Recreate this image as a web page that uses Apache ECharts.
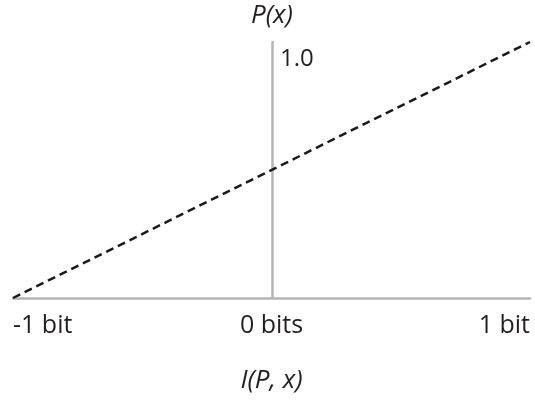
<!DOCTYPE html>
<html lang="en">
<head>
	<meta charset="UTF-8">
	<title>information vs probability</title>
	<style>
		html, body { margin: 0; padding: 0; background: #fff; }
		#chart { width: 535px; height: 400px; }
	</style>
</head>
<body>
	<div id="chart"></div>
	<script src="https://cdn.jsdelivr.net/npm/echarts@6/dist/echarts.min.js"></script>
	<script>
		// data
		var infoBits = [-1, 1];
		var probValues = [0, 1];
		var xTickLabels = {'-1': '-1 bit', '0': '0 bits', '1': '1 bit'};
		var yTickLabels = {'1': '1.0'};

		var lineData = [];
		for (var i = 0; i < infoBits.length; i++) {
			lineData.push([infoBits[i], probValues[i]]);
		}

		var axisGrey = '#b5b5b8';
		var textCol = '#231f20';
		var font = '"Open Sans", sans-serif';

		var chart = echarts.init(document.getElementById('chart'));
		chart.setOption({
			animation: false,
			backgroundColor: '#fff',
			grid: { left: 13, right: 5, top: 42, bottom: 102 },
			xAxis: {
				type: 'value',
				min: -1, max: 1, interval: 1,
				name: 'I(P, x)',
				nameLocation: 'middle',
				nameGap: 70,
				nameTextStyle: { fontFamily: font, fontSize: 26, fontStyle: 'italic', color: textCol },
				axisLine: { show: true, onZero: false, lineStyle: { color: axisGrey, width: 2.5 } },
				axisTick: { show: false },
				splitLine: { show: false },
				axisLabel: {
					margin: 15,
					fontFamily: font, fontSize: 25, color: textCol,
					alignMinLabel: 'left', alignMaxLabel: 'right',
					formatter: function (v) { return xTickLabels[String(v)] || ''; }
				}
			},
			yAxis: {
				type: 'value',
				min: 0, max: 1, interval: 1,
				// put the axis at x = 0 (middle of the grid)
				offset: -259,
				name: 'P(x)',
				nameLocation: 'end',
				nameGap: 13,
				nameTextStyle: { fontFamily: font, fontSize: 26, fontStyle: 'italic', color: textCol, align: 'center' },
				axisLine: { show: true, onZero: false, lineStyle: { color: axisGrey, width: 2.5 } },
				axisTick: { show: false },
				splitLine: { show: false },
				axisLabel: {
					inside: true,
					margin: 8,
					showMinLabel: false,
					verticalAlign: 'top',
					padding: [5, 0, 0, 0],
					fontFamily: font, fontSize: 24, color: textCol,
					formatter: function (v) { return yTickLabels[String(v)] || ''; }
				}
			},
			series: [{
				type: 'line',
				data: lineData,
				symbol: 'none',
				lineStyle: { color: '#1a1a1a', width: 2.5, type: [8, 5] }
			}]
		});
	</script>
</body>
</html>
